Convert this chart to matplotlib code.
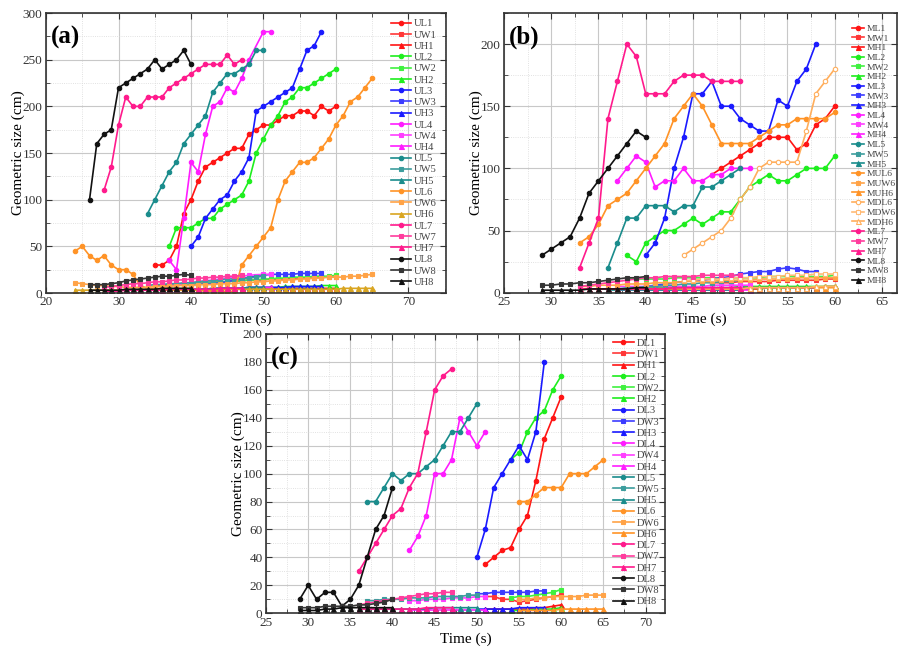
import numpy as np
import matplotlib
matplotlib.use('Agg')
import matplotlib.pyplot as plt
from matplotlib.colors import to_rgb
from matplotlib.ticker import MultipleLocator

plt.rcParams['font.family'] = ['Liberation Serif', 'DejaVu Serif']

# ---------------- (a) upstream series ----------------
T_U1 = list(range(35, 61))
UL1 = [30, 30, 35, 50, 85, 100, 120, 135, 140, 145, 150, 155, 155, 170, 175, 180, 180, 185, 190, 190, 195, 195, 190, 200, 195, 200]
UW1 = [8, 8, 9, 9, 10, 10, 11, 11, 12, 12, 12, 13, 13, 14, 14, 14, 15, 15, 15, 16, 16, 16, 16, 17, 17, 17]
UH1 = [3, 3, 3, 3, 3, 3, 3, 4, 4, 4, 4, 4, 4, 4, 4, 4, 4, 5, 5, 5, 5, 5, 5, 5, 5, 5]

T_U2 = list(range(37, 61))
UL2 = [50, 70, 70, 70, 75, 80, 80, 90, 95, 100, 105, 120, 150, 165, 180, 190, 205, 210, 220, 220, 225, 230, 235, 240]
UW2 = [8, 9, 9, 10, 10, 11, 11, 12, 12, 13, 13, 14, 14, 15, 15, 16, 16, 17, 17, 17, 18, 18, 18, 19]
UH2 = [3, 3, 3, 4, 4, 4, 4, 5, 5, 5, 5, 6, 6, 6, 6, 6, 7, 7, 7, 7, 7, 8, 8, 8]

T_U3 = list(range(40, 59))
UL3 = [50, 60, 80, 90, 100, 105, 120, 130, 145, 195, 200, 205, 210, 215, 220, 240, 260, 265, 280]
UW3 = [9, 9, 10, 10, 11, 12, 14, 15, 17, 18, 19, 20, 20, 20, 20, 21, 21, 21, 21]
UH3 = [4, 4, 4, 5, 5, 5, 5, 5, 6, 6, 6, 6, 6, 6, 7, 7, 7, 7, 7]

T_U4 = [37, 38, 39, 40, 41, 42, 43, 44, 45, 46, 47, 48, 50, 51]
UL4 = [35, 25, 80, 140, 130, 170, 200, 205, 220, 215, 230, 250, 280, 280]
UW4 = [8, 9, 10, 11, 12, 13, 14, 15, 16, 17, 18, 19, 20, 20]
UH4 = [3, 3, 3, 4, 4, 4, 4, 5, 5, 5, 5, 6, 6, 6]

T_U5 = list(range(34, 51))
UL5 = [85, 100, 115, 130, 140, 160, 170, 180, 190, 215, 225, 235, 235, 240, 245, 260, 260]
UW5 = [8, 9, 9, 10, 10, 11, 11, 12, 13, 13, 14, 15, 15, 16, 16, 17, 18]
UH5 = [3, 3, 3, 3, 4, 4, 4, 4, 4, 5, 5, 5, 5, 5, 6, 6, 6]

T_U6 = list(range(24, 66))
UL6 = [45, 50, 40, 35, 40, 30, 25, 25, 20, 8, 5, 5, 4, 4, 4, 3, 3, 3, 2, 2, 2, 1,
       2, 30, 40, 50, 60, 70, 100, 120, 130, 140, 140, 145, 155, 165, 180, 190, 205, 210, 220, 230]
UW6 = [11, 10, 9, 8, 8, 7, 7, 6, 6, 6, 6, 7, 7, 7, 8, 8, 8, 9, 9, 9, 10, 10,
       10, 11, 11, 12, 12, 13, 13, 14, 14, 15, 15, 16, 16, 17, 17, 17, 18, 18, 19, 20]
UH6 = [3, 3, 3, 3, 3, 3, 3, 3, 3, 3, 3, 3, 3, 3, 3, 3, 3, 3, 3, 3, 3,
       4, 4, 4, 4, 4, 4, 4, 4, 4, 4, 4, 4, 4, 4, 4, 4, 5, 5, 5, 5, 5]

T_U7 = list(range(28, 48))
UL7 = [110, 135, 180, 210, 200, 200, 210, 210, 210, 220, 225, 230, 235, 240, 245, 245, 245, 255, 245, 250]
UW7 = [6, 7, 8, 9, 10, 10, 11, 12, 12, 13, 14, 14, 15, 16, 16, 17, 17, 18, 18, 19]
UH7 = [2, 2, 2, 3, 3, 3, 3, 3, 3, 4, 4, 4, 4, 4, 4, 4, 5, 5, 5, 5]

T_U8 = list(range(26, 41))
UL8 = [100, 160, 170, 175, 220, 225, 230, 235, 240, 250, 240, 245, 250, 260, 245]
UW8 = [9, 9, 9, 10, 11, 13, 14, 15, 16, 17, 18, 18, 19, 20, 19]
UH8 = [3, 3, 3, 3, 3, 4, 4, 4, 4, 4, 5, 5, 5, 5, 5]

# ---------------- (b) midstream series ----------------
T_M1 = list(range(47, 61))
ML1 = [95, 100, 105, 110, 115, 120, 125, 125, 125, 115, 120, 135, 140, 150]
MW1 = [8, 8, 8, 9, 9, 9, 9, 10, 10, 10, 10, 10, 11, 11]
MH1 = [3, 3, 3, 3, 3, 3, 4, 4, 4, 4, 4, 4, 5, 5]

T_M2 = list(range(38, 61))
ML2 = [30, 25, 40, 45, 50, 50, 55, 60, 55, 60, 65, 65, 75, 85, 90, 95, 90, 90, 95, 100, 100, 100, 110]
MW2 = [11, 11, 11, 11, 11, 12, 12, 12, 12, 12, 12, 12, 12, 12, 12, 13, 13, 13, 13, 13, 13, 13, 14]
MH2 = [4, 4, 4, 4, 4, 4, 4, 4, 4, 4, 4, 4, 5, 5, 5, 5, 5, 5, 5, 5, 5, 5, 5]

T_M3 = list(range(40, 59))
ML3 = [30, 40, 60, 100, 125, 160, 160, 170, 150, 150, 140, 135, 130, 130, 155, 150, 170, 180, 200]
MW3 = [5, 6, 7, 8, 9, 10, 10, 11, 12, 13, 15, 16, 17, 17, 19, 20, 19, 17, 17]
MH3 = [3, 3, 3, 3, 3, 3, 4, 4, 4, 4, 4, 4, 4, 4, 4, 4, 4, 4, 4]

T_M4 = list(range(37, 52))
ML4 = [90, 100, 110, 105, 85, 90, 90, 100, 90, 90, 95, 95, 100, 100, 100]
MW4 = [5, 5, 5, 5, 5, 5, 5, 5, 5, 5, 6, 6, 6, 6, 6]
MH4 = [2, 2, 2, 2, 2, 2, 2, 2, 2, 2, 2, 2, 2, 2, 2]

T_M5 = list(range(36, 51))
ML5 = [20, 40, 60, 60, 70, 70, 70, 65, 70, 70, 85, 85, 90, 95, 100]
MW5 = [3, 3, 4, 4, 5, 5, 6, 6, 7, 7, 8, 8, 9, 9, 10]
MH5 = [2, 2, 2, 2, 2, 2, 2, 2, 2, 2, 2, 2, 2, 2, 2]

T_MU6 = list(range(33, 61))
MUL6 = [40, 45, 55, 70, 75, 80, 90, 100, 110, 120, 140, 150, 160, 150, 135, 120, 120, 120, 120, 125,
        130, 135, 135, 140, 140, 140, 140, 145]
MUW6 = [5, 5, 6, 6, 6, 7, 7, 7, 8, 8, 8, 9, 9, 9, 9, 10, 10, 10, 10, 11, 11, 11, 11, 12, 12, 12, 12, 12]
MUH6 = [3, 3, 3, 3, 3, 3, 3, 3, 3, 3, 3, 3, 3, 3, 3, 3, 3, 3, 4, 4, 4, 4, 4, 4, 4, 4, 4, 4]

T_MD6 = list(range(44, 61))
MDL6 = [30, 35, 40, 45, 50, 60, 75, 85, 100, 105, 105, 105, 105, 130, 160, 170, 180]
MDW6 = [10, 10, 11, 11, 11, 12, 12, 12, 13, 13, 13, 14, 14, 14, 15, 15, 15]
MDH6 = [3, 3, 3, 3, 3, 3, 3, 4, 4, 4, 4, 4, 4, 4, 5, 5, 5]

T_M7 = list(range(33, 51))
ML7 = [20, 40, 60, 140, 170, 200, 190, 160, 160, 160, 170, 175, 175, 175, 170, 170, 170, 170]
MW7 = [5, 6, 7, 8, 9, 10, 11, 12, 12, 13, 13, 13, 13, 14, 14, 14, 14, 14]
MH7 = [3, 3, 3, 3, 3, 3, 3, 3, 3, 3, 4, 4, 4, 4, 4, 4, 4, 4]

T_M8 = list(range(29, 41))
ML8 = [30, 35, 40, 45, 60, 80, 90, 100, 110, 120, 130, 125]
MW8 = [6, 6, 7, 7, 8, 8, 9, 10, 11, 12, 12, 13]
MH8 = [2, 2, 2, 2, 2, 3, 3, 3, 3, 3, 4, 4]

# ---------------- (c) downstream series ----------------
T_D1 = list(range(51, 61))
DL1 = [35, 40, 45, 47, 60, 70, 95, 125, 140, 155]
DW1 = [12, 12, 10, 10, 8, 9, 10, 11, 12, 13]
DH1 = [3, 3, 3, 3, 3, 3, 4, 4, 5, 6]

T_D2 = list(range(54, 61))
DL2 = [110, 115, 130, 140, 145, 160, 170]
DW2 = [11, 12, 12, 13, 14, 15, 17]
DH2 = [2, 2, 2, 3, 3, 3, 4]

T_D3 = list(range(50, 59))
DL3 = [40, 60, 90, 100, 110, 120, 110, 130, 180]
DW3 = [14, 14, 15, 15, 15, 15, 15, 16, 16]
DH3 = [3, 3, 3, 3, 3, 4, 4, 4, 4]

T_D4 = list(range(42, 52))
DL4 = [45, 55, 70, 100, 100, 110, 140, 130, 120, 130]
DW4 = [9, 9, 10, 10, 10, 11, 11, 11, 12, 12]
DH4 = [2, 2, 2, 2, 2, 2, 2, 2, 2, 2]

T_D5 = list(range(37, 51))
DL5 = [80, 80, 90, 100, 95, 100, 100, 105, 110, 120, 130, 130, 140, 150]
DW5 = [9, 9, 10, 10, 10, 11, 11, 11, 12, 12, 12, 12, 13, 13]
DH5 = [3, 3, 3, 3, 3, 3, 3, 3, 4, 4, 4, 4, 4, 4]

T_D6 = list(range(55, 66))
DL6 = [80, 80, 85, 90, 90, 90, 100, 100, 100, 105, 110]
DW6 = [10, 10, 11, 11, 12, 12, 12, 12, 13, 13, 13]
DH6 = [2, 2, 2, 2, 2, 3, 3, 3, 3, 3, 3]

T_D7 = list(range(36, 48))
DL7 = [30, 40, 50, 60, 70, 75, 90, 100, 130, 160, 170, 175]
DW7 = [6, 7, 8, 9, 10, 11, 12, 13, 14, 14, 15, 15]
DH7 = [3, 3, 3, 3, 3, 3, 3, 3, 4, 4, 4, 4]

T_D8 = list(range(29, 41))
DL8 = [10, 20, 10, 15, 15, 5, 10, 20, 40, 60, 70, 90]
DW8 = [4, 4, 4, 5, 5, 5, 5, 6, 6, 7, 8, 10]
DH8 = [2, 2, 2, 3, 3, 4, 4, 4, 4, 4, 4, 4]

# one colour per tracked group, markers by dimension (L / W / H)
GROUP_COLORS = {'1': '#ff1414', '2': '#1eee1e', '3': '#1a1aff', '4': '#ff1cff',
                '5': '#1a8c8c', '6': '#ff9326', '7': '#ff1a8c', '8': '#111111'}
MARKERS = {'L': 'o', 'W': 's', 'H': '^'}


def blend(color, amount):
    """Mix a colour with white by the given amount."""
    r, g, b = to_rgb(color)
    return (r + (1 - r) * amount, g + (1 - g) * amount, b + (1 - b) * amount)


def series_style(name):
    """Return colour, marker and marker face for a series name such as UL1 or MDW6."""
    group = name[-1]
    kind = name[-2]
    color = GROUP_COLORS[group]
    if name == 'UH6':
        color = '#d9a521'
    if kind == 'W':
        color = blend(color, 0.15)
    face = color
    if name.startswith('MD'):
        color = blend(color, 0.25)
        face = 'white'
    return color, MARKERS[kind], face


def draw_panel(ax, series, tag, xlim, ylim, xstep, ystep, legend_kw):
    """Plot every series of one panel with grid, ticks and legend."""
    for name, t, v in series:
        color, marker, face = series_style(name)
        ms = 3.6 if marker == '^' else 3.2
        ax.plot(t, v, color=color, marker=marker, markersize=ms, markerfacecolor=face,
                markeredgecolor=color, markeredgewidth=0.8, linewidth=1.2, label=name)

    ax.set_xlim(*xlim)
    ax.set_ylim(*ylim)
    ax.xaxis.set_major_locator(MultipleLocator(xstep))
    ax.xaxis.set_minor_locator(MultipleLocator(xstep / 2))
    ax.yaxis.set_major_locator(MultipleLocator(ystep))
    ax.yaxis.set_minor_locator(MultipleLocator(ystep / 2))
    ax.grid(True, which='major', color='#c8c8c8', linewidth=0.8)
    ax.grid(True, which='minor', color='#d8d8d8', linewidth=0.6, linestyle=':')
    ax.set_axisbelow(True)
    ax.tick_params(which='both', direction='in', top=True, right=True,
                   labelsize=9.5, colors='#333333', length=3, pad=2.5)
    ax.tick_params(which='major', length=4)
    for spine in ax.spines.values():
        spine.set_color('#333333')
        spine.set_linewidth(1.2)

    ax.set_xlabel('Time (s)', fontsize=11, labelpad=3)
    ax.set_ylabel('Geometric size (cm)', fontsize=11, labelpad=-2)
    ax.text(0.012, 0.955, tag, transform=ax.transAxes, fontsize=18, fontweight='bold',
            va='top', ha='left')
    ax.legend(loc='upper right', frameon=False, labelcolor='#444444',
              borderpad=0.3, **legend_kw)


series_a = [('UL1', T_U1, UL1), ('UW1', T_U1, UW1), ('UH1', T_U1, UH1),
            ('UL2', T_U2, UL2), ('UW2', T_U2, UW2), ('UH2', T_U2, UH2),
            ('UL3', T_U3, UL3), ('UW3', T_U3, UW3), ('UH3', T_U3, UH3),
            ('UL4', T_U4, UL4), ('UW4', T_U4, UW4), ('UH4', T_U4, UH4),
            ('UL5', T_U5, UL5), ('UW5', T_U5, UW5), ('UH5', T_U5, UH5),
            ('UL6', T_U6, UL6), ('UW6', T_U6, UW6), ('UH6', T_U6, UH6),
            ('UL7', T_U7, UL7), ('UW7', T_U7, UW7), ('UH7', T_U7, UH7),
            ('UL8', T_U8, UL8), ('UW8', T_U8, UW8), ('UH8', T_U8, UH8)]

series_b = [('ML1', T_M1, ML1), ('MW1', T_M1, MW1), ('MH1', T_M1, MH1),
            ('ML2', T_M2, ML2), ('MW2', T_M2, MW2), ('MH2', T_M2, MH2),
            ('ML3', T_M3, ML3), ('MW3', T_M3, MW3), ('MH3', T_M3, MH3),
            ('ML4', T_M4, ML4), ('MW4', T_M4, MW4), ('MH4', T_M4, MH4),
            ('ML5', T_M5, ML5), ('MW5', T_M5, MW5), ('MH5', T_M5, MH5),
            ('MUL6', T_MU6, MUL6), ('MUW6', T_MU6, MUW6), ('MUH6', T_MU6, MUH6),
            ('MDL6', T_MD6, MDL6), ('MDW6', T_MD6, MDW6), ('MDH6', T_MD6, MDH6),
            ('ML7', T_M7, ML7), ('MW7', T_M7, MW7), ('MH7', T_M7, MH7),
            ('ML8', T_M8, ML8), ('MW8', T_M8, MW8), ('MH8', T_M8, MH8)]

series_c = [('DL1', T_D1, DL1), ('DW1', T_D1, DW1), ('DH1', T_D1, DH1),
            ('DL2', T_D2, DL2), ('DW2', T_D2, DW2), ('DH2', T_D2, DH2),
            ('DL3', T_D3, DL3), ('DW3', T_D3, DW3), ('DH3', T_D3, DH3),
            ('DL4', T_D4, DL4), ('DW4', T_D4, DW4), ('DH4', T_D4, DH4),
            ('DL5', T_D5, DL5), ('DW5', T_D5, DW5), ('DH5', T_D5, DH5),
            ('DL6', T_D6, DL6), ('DW6', T_D6, DW6), ('DH6', T_D6, DH6),
            ('DL7', T_D7, DL7), ('DW7', T_D7, DW7), ('DH7', T_D7, DH7),
            ('DL8', T_D8, DL8), ('DW8', T_D8, DW8), ('DH8', T_D8, DH8)]

fig = plt.figure(figsize=(9.01, 6.52), dpi=100)
ax_a = fig.add_axes([0.0511, 0.5506, 0.4440, 0.4294])
ax_b = fig.add_axes([0.5594, 0.5511, 0.4362, 0.4290])
ax_c = fig.add_axes([0.2952, 0.0594, 0.4428, 0.4284])

draw_panel(ax_a, series_a, '(a)', (20, 75.2), (0, 300), 10, 50,
           dict(bbox_to_anchor=(0.985, 0.99), fontsize=7.6, handlelength=1.9,
                handletextpad=0.3, labelspacing=0.175, borderaxespad=0))
draw_panel(ax_b, series_b, '(b)', (25, 66.6), (0, 225), 5, 50,
           dict(bbox_to_anchor=(1.004, 0.97), fontsize=6.8, handlelength=1.3,
                handletextpad=0.3, labelspacing=0.115, borderaxespad=0))
draw_panel(ax_c, series_c, '(c)', (25, 72.3), (0, 200), 5, 20,
           dict(bbox_to_anchor=(0.995, 0.995), fontsize=7.6, handlelength=2.0,
                handletextpad=0.3, labelspacing=0.175, borderaxespad=0))

fig.savefig('out.png', dpi=100)
